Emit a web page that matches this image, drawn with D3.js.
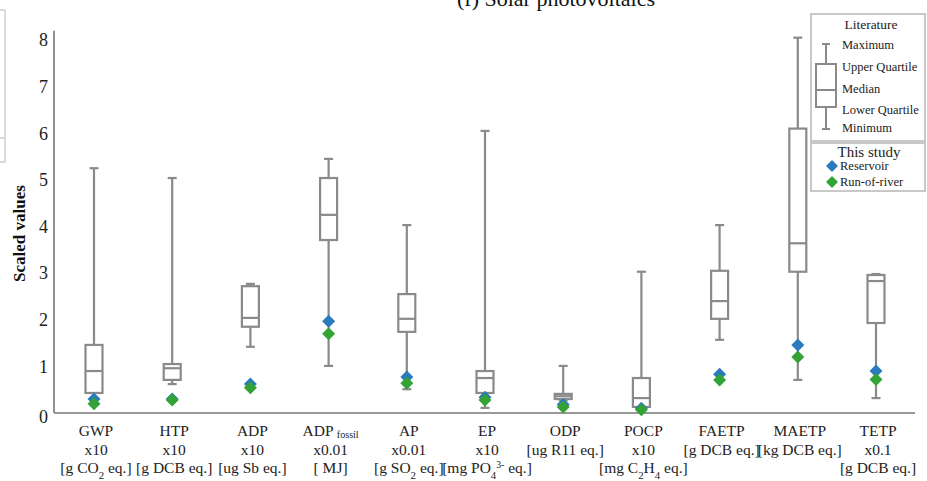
<!DOCTYPE html>
<html>
<head>
<meta charset="utf-8">
<script src="https://cdn.jsdelivr.net/npm/d3@7"></script>
<style>
  html, body { margin: 0; padding: 0; background: #fff; }
  svg { display: block; font-family: "Liberation Serif", "Times New Roman", serif; }
</style>
</head>
<body>
<div id="chart"></div>
<script>
// categories and literature box stats (scaled values)
const categories = ["GWP", "HTP", "ADP", "ADPfossil", "AP", "EP", "ODP", "POCP", "FAETP", "MAETP", "TETP"];
const names = ["GWP", "HTP", "ADP", "ADP _{fossil}", "AP", "EP", "ODP", "POCP", "FAETP", "MAETP", "TETP"];
const factors = ["x10", "x10", "x10", "x0.01", "x0.01", "x10", "", "x10", "", "", "x0.1"];
const units = ["[g CO_{2} eq.]", "[g DCB eq.]", "[ug Sb eq.]", "[ MJ]", "[g SO_{2} eq.]",
  "[mg PO_{4}^{3-} eq.]", "[ug R11 eq.]", "[mg C_{2}H_{4} eq.]", "[g DCB eq.]", "[kg DCB eq.]", "[g DCB eq.]"];

const maxV   = [5.25, 5.04, 2.77, 5.45, 4.03, 6.05, 1.01, 3.03, 4.03, 8.05, 2.98];
const q3     = [1.46, 1.05, 2.72, 5.04, 2.55, 0.90, 0.41, 0.75, 3.05, 6.10, 2.96];
const median = [0.90, 0.96, 2.04, 4.25, 2.02, 0.75, 0.36, 0.32, 2.40, 3.64, 2.83];
const q1     = [0.43, 0.71, 1.85, 3.71, 1.74, 0.43, 0.30, 0.13, 2.02, 3.03, 1.93];
const minV   = [0.43, 0.62, 1.42, 1.01, 0.51, 0.11, 0.27, 0.08, 1.57, 0.71, 0.32];

// this study
const reservoir  = [0.30, 0.30, 0.62, 1.97, 0.77, 0.34, 0.18, 0.10, 0.83, 1.46, 0.90];
const runOfRiver = [0.20, 0.28, 0.54, 1.70, 0.64, 0.28, 0.13, 0.07, 0.71, 1.20, 0.72];

const yTicks = [0, 1, 2, 3, 4, 5, 6, 7, 8];

const W = 927, H = 481;
const GRAY = "#8a8a8a";
const BLUE = "#2a7bbd";
const GREEN = "#33a336";

const svg = d3.select("#chart").append("svg")
  .attr("width", W).attr("height", H);

const x = d3.scalePoint().domain(categories).range([94, 876]);
const y = d3.scaleLinear().domain([0, 8]).range([413, 40]);

// simple _{sub} / ^{sup} markup -> tspans
function rich(textSel, str, size) {
  const parts = str.split(/(_\{[^}]*\}|\^\{[^}]*\})/).filter(s => s !== "");
  parts.forEach(p => {
    if (p.startsWith("_{")) {
      const s = p.slice(2, -1);
      // long subscripts (like "fossil") sit only a little below the line
      textSel.append("tspan").attr("baseline-shift", s.length > 2 ? -2 : "sub")
        .attr("font-size", s.length > 2 ? size * 0.65 : size * 0.7).text(s);
    } else if (p.startsWith("^{")) {
      textSel.append("tspan").attr("baseline-shift", "super")
        .attr("font-size", size * 0.62).text(p.slice(2, -1));
    } else {
      textSel.append("tspan").text(p);
    }
  });
}

// cut-off neighbour panel at left edge
svg.append("rect").attr("x", -40).attr("y", 10).attr("width", 45).attr("height", 152)
  .attr("fill", "none").attr("stroke", "#cfcfcf").attr("stroke-width", 1.5);
svg.append("line").attr("x1", -40).attr("x2", 5).attr("y1", 138).attr("y2", 138)
  .attr("stroke", "#cfcfcf").attr("stroke-width", 1.5);

// title (cut off at the top)
svg.append("text").attr("x", 457).attr("y", 6).attr("font-size", 22).attr("fill", "#111")
  .text("(f) Solar photovoltaics");

// axes
svg.append("line").attr("x1", 54).attr("x2", 54).attr("y1", y(8.2)).attr("y2", y(0))
  .attr("stroke", "#777").attr("stroke-width", 1.6);
svg.append("line").attr("x1", 54).attr("x2", 915).attr("y1", y(0)).attr("y2", y(0))
  .attr("stroke", "#777").attr("stroke-width", 1.6);

const yAxis = svg.append("g").attr("transform", "translate(54,0)")
  .call(d3.axisLeft(y).tickValues(yTicks).tickSize(0).tickPadding(6).tickFormat(d3.format("d")));
yAxis.select(".domain").remove();
yAxis.selectAll("text").attr("font-size", 18).attr("font-family", "Liberation Serif")
  .attr("fill", "#222");
yAxis.selectAll(".tick").filter(d => d === 0).select("text").attr("dy", "0.55em");

svg.append("text")
  .attr("transform", `translate(25,${y(3.85)}) rotate(-90)`)
  .attr("text-anchor", "middle").attr("font-size", 17).attr("font-weight", "bold")
  .attr("fill", "#111").text("Scaled values");

// box plots
const boxW = 17, capW = 9;
const g = svg.append("g").attr("stroke", GRAY).attr("stroke-width", 2.2).attr("fill", "none");
categories.forEach((c, i) => {
  const cx = x(c);
  g.append("line").attr("x1", cx).attr("x2", cx).attr("y1", y(maxV[i])).attr("y2", y(q3[i]));
  g.append("line").attr("x1", cx).attr("x2", cx).attr("y1", y(q1[i])).attr("y2", y(minV[i]));
  g.append("line").attr("x1", cx - capW / 2).attr("x2", cx + capW / 2).attr("y1", y(maxV[i])).attr("y2", y(maxV[i]));
  g.append("line").attr("x1", cx - capW / 2).attr("x2", cx + capW / 2).attr("y1", y(minV[i])).attr("y2", y(minV[i]));
  g.append("rect").attr("x", cx - boxW / 2).attr("y", y(q3[i]))
    .attr("width", boxW).attr("height", y(q1[i]) - y(q3[i])).attr("fill", "#fff");
  g.append("line").attr("x1", cx - boxW / 2).attr("x2", cx + boxW / 2).attr("y1", y(median[i])).attr("y2", y(median[i]));
});

// diamonds
function diamond(sel, cx, cy, r, color) {
  sel.append("path")
    .attr("d", `M${cx},${cy - r}L${cx + r},${cy}L${cx},${cy + r}L${cx - r},${cy}Z`)
    .attr("fill", color);
}
const pts = svg.append("g");
categories.forEach((c, i) => diamond(pts, x(c), y(reservoir[i]), 6.5, BLUE));
categories.forEach((c, i) => diamond(pts, x(c), y(runOfRiver[i]), 6.5, GREEN));

// x labels
const xl = svg.append("g").attr("fill", "#222").attr("text-anchor", "middle");
categories.forEach((c, i) => {
  const lines = [names[i], factors[i], units[i]].filter(s => s !== "");
  lines.forEach((ln, j) => {
    const t = xl.append("text").attr("x", x(c) + 2).attr("y", 436 + j * 18.5).attr("font-size", 15.5);
    rich(t, ln, 15.5);
  });
});

// legend
const lg = svg.append("g");
lg.append("rect").attr("x", 811).attr("y", 14).attr("width", 114).attr("height", 127)
  .attr("fill", "#fff").attr("stroke", "#c8c8c8").attr("stroke-width", 2);
lg.append("rect").attr("x", 811).attr("y", 143).attr("width", 114).attr("height", 48)
  .attr("fill", "#fff").attr("stroke", "#c8c8c8").attr("stroke-width", 2);
lg.append("text").attr("x", 871).attr("y", 29).attr("text-anchor", "middle")
  .attr("font-size", 13.5).attr("fill", "#222").text("Literature");

const lgBox = lg.append("g").attr("stroke", GRAY).attr("stroke-width", 2).attr("fill", "none");
lgBox.append("line").attr("x1", 826).attr("x2", 826).attr("y1", 44).attr("y2", 129);
lgBox.append("line").attr("x1", 822).attr("x2", 830).attr("y1", 44).attr("y2", 44);
lgBox.append("line").attr("x1", 822).attr("x2", 830).attr("y1", 129).attr("y2", 129);
lgBox.append("rect").attr("x", 816).attr("y", 64).attr("width", 20).attr("height", 43).attr("fill", "#fff");
lgBox.append("line").attr("x1", 816).attr("x2", 836).attr("y1", 90).attr("y2", 90);

const lgLabels = ["Maximum", "Upper Quartile", "Median", "Lower Quartile", "Minimum"];
const lgY = [49, 71, 93, 114, 132];
lgLabels.forEach((s, i) => {
  lg.append("text").attr("x", 842).attr("y", lgY[i]).attr("font-size", 12.5)
    .attr("fill", "#222").text(s);
});

lg.append("text").attr("x", 869).attr("y", 157).attr("text-anchor", "middle")
  .attr("font-size", 15).attr("fill", "#222").text("This study");
diamond(lg, 832, 166, 6, BLUE);
diamond(lg, 832, 182, 6, GREEN);
lg.append("text").attr("x", 840).attr("y", 170).attr("font-size", 12.5).attr("fill", "#222").text("Reservoir");
lg.append("text").attr("x", 840).attr("y", 186).attr("font-size", 12.5).attr("fill", "#222").text("Run-of-river");
</script>
</body>
</html>
